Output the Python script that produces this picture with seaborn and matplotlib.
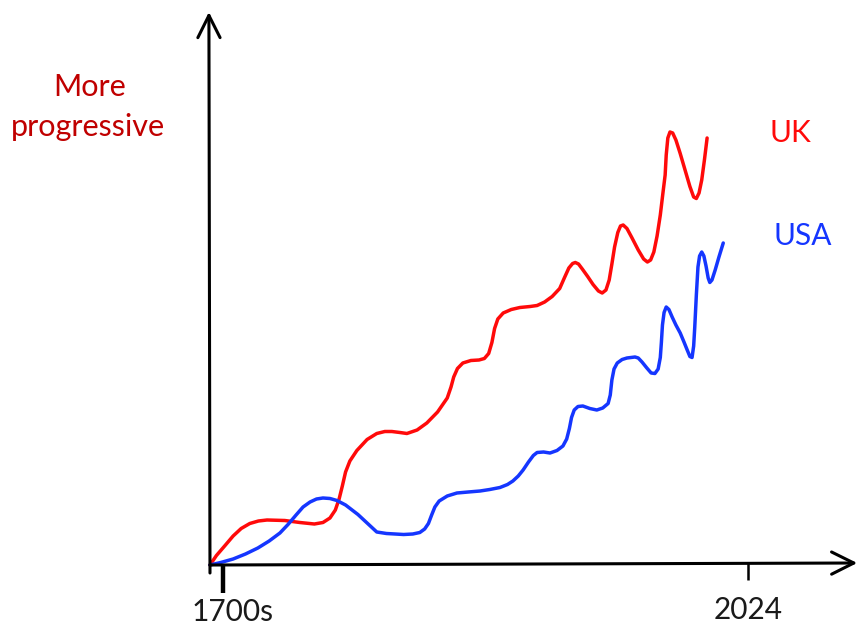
import matplotlib
matplotlib.use("Agg")
import matplotlib.pyplot as plt
import seaborn as sns
import pandas as pd

# Data (x: 0 = 1700s, 100 = 2024; y: progressiveness, arbitrary units)
uk_x = [0, 1.2, 2.8, 4.3, 5.8, 7.4, 9.0, 10.6, 13.9, 16.7, 19.4, 21.0, 22.3, 23.3, 24.0,
        24.6, 25.2, 26.0, 27.3, 29.2, 31.0, 32.5, 33.8, 35.3, 36.6, 38.5, 40.3, 42.3, 44.1,
        44.8, 45.3, 46.0, 47.0, 48.5, 50.0, 51.0, 51.8, 52.4, 52.9, 53.5, 54.5, 56.0, 57.6,
        59.5, 60.8, 62.2, 63.6, 65.0, 65.9, 66.7, 67.4, 67.9, 68.5, 69.2, 70.2, 71.2, 72.2,
        72.9, 73.6, 74.2, 74.7, 75.2, 75.8, 76.3, 76.8, 77.5, 78.4, 79.6, 80.6, 81.3, 81.9,
        82.5, 83.1, 83.7, 84.2, 84.6, 84.8, 85.1, 85.5, 86.0, 86.6, 87.4, 88.3, 89.2, 89.9,
        90.4, 90.9, 91.4, 91.9, 92.4]
uk_y = [0, 1.9, 3.9, 5.8, 7.3, 8.3, 8.8, 9.0, 8.9, 8.5, 8.2, 8.5, 9.4, 11.0, 13.2,
        15.8, 18.6, 20.8, 22.9, 25.1, 26.3, 26.7, 26.7, 26.5, 26.3, 27.0, 28.4, 30.6, 33.4,
        35.6, 37.6, 39.3, 40.4, 40.9, 41.0, 41.3, 42.3, 44.5, 47.3, 49.2, 50.4, 51.1, 51.5,
        51.7, 51.9, 52.6, 53.7, 55.3, 57.5, 59.4, 60.3, 60.5, 60.2, 59.2, 57.7, 56.1, 54.8,
        54.4, 55.0, 57.0, 60.2, 63.6, 66.5, 67.8, 68.0, 67.3, 65.5, 63.0, 61.2, 60.6, 61.0,
        62.6, 65.8, 70.0, 74.5, 78.0, 82.0, 85.4, 86.6, 86.4, 85.0, 82.3, 79.0, 75.7, 73.6,
        73.3, 74.4, 77.0, 81.0, 85.4]
usa_x = [0, 2.0, 4.3, 6.6, 8.9, 11.0, 13.0, 14.5, 16.0, 17.3, 18.6, 19.8, 21.0, 22.3,
         23.6, 25.2, 27.5, 29.3, 31.0, 32.8, 34.4, 36.0, 37.7, 39.0, 39.9, 40.6, 41.2, 41.8,
         42.6, 44.1, 45.9, 48.0, 50.2, 52.0, 53.9, 55.3, 56.3, 57.3, 58.2, 59.2, 60.1, 60.8,
         62.0, 63.2, 64.5, 65.6, 66.3, 66.8, 67.2, 67.7, 68.4, 69.3, 70.6, 71.9, 73.0, 74.0,
         74.4, 74.7, 75.1, 75.7, 76.6, 77.5, 79.0, 79.6, 80.3, 81.2, 82.0, 82.7, 83.3, 83.7,
         83.9, 84.1, 84.4, 84.8, 85.3, 85.9, 86.6, 87.4, 88.1, 88.7, 89.2, 89.6, 89.9, 90.1,
         90.4, 90.7, 91.0, 91.4, 91.8, 92.2, 92.6, 92.9, 93.3, 93.9, 94.6, 95.4]
usa_y = [0, 0.5, 1.2, 2.2, 3.4, 4.8, 6.4, 8.1, 10.0, 11.6, 12.6, 13.2, 13.4, 13.3,
         12.9, 12.0, 10.1, 8.3, 6.6, 6.3, 6.2, 6.1, 6.2, 6.5, 7.2, 8.3, 10.0, 11.6,
         12.8, 13.8, 14.4, 14.6, 14.8, 15.1, 15.5, 16.1, 16.8, 17.8, 19.0, 20.6, 21.9, 22.5,
         22.6, 22.4, 22.9, 23.8, 25.2, 27.3, 29.5, 31.0, 31.7, 31.8, 31.3, 31.0, 31.4, 32.3,
         34.0, 37.0, 39.2, 40.4, 41.1, 41.4, 41.6, 41.4, 40.6, 39.4, 38.4, 38.3, 39.2, 41.5,
         44.5, 48.0, 50.5, 51.6, 51.1, 49.6, 48.0, 46.4, 44.6, 43.0, 41.7, 41.5, 43.8, 47.5,
         54.0, 59.6, 61.8, 62.6, 61.8, 59.8, 57.4, 56.5, 57.0, 59.0, 61.6, 64.4]
tick_positions = [2.4, 100]
tick_labels = ["1700s", "2024"]
series_names = ["UK", "USA"]

df = pd.concat([
    pd.DataFrame({"x": uk_x, "y": uk_y, "country": "UK"}),
    pd.DataFrame({"x": usa_x, "y": usa_y, "country": "USA"}),
])

sns.set_style("white")
plt.rcParams["font.family"] = ["Lato", "DejaVu Sans"]

fig = plt.figure(figsize=(8.57, 6.35), dpi=100)
ax = fig.add_axes([0, 0, 1, 1])
ax.set_xlim(-39.03, 120.26)
ax.set_ylim(-14, 113)
ax.axis("off")

palette = {"UK": "#FF0A0A", "USA": "#1536FF"}
sns.lineplot(data=df, x="x", y="y", hue="country", palette=palette, sort=False,
             estimator=None, units="country", legend=False, lw=2.5, ax=ax,
             solid_joinstyle="round", solid_capstyle="round")

# axes with arrows
ax.annotate("", xy=(-0.2, 110.6), xytext=(0, -1.6),
            arrowprops=dict(arrowstyle="->,head_length=1.6,head_width=0.8", lw=2.2,
                            color="black", shrinkA=0, shrinkB=0))
ax.annotate("", xy=(120.3, 0.4), xytext=(0, 0),
            arrowprops=dict(arrowstyle="->,head_length=1.6,head_width=0.8", lw=2.2,
                            color="black", shrinkA=0, shrinkB=0))

# ticks
ax.plot([tick_positions[0]] * 2, [0, -5.6], color="black", lw=3.2, solid_capstyle="butt")
ax.plot([tick_positions[1]] * 2, [0.4, -3.0], color="black", lw=1.8, solid_capstyle="butt")
ax.text(4.1, -9.4, tick_labels[0], ha="center", va="center", fontsize=21.5, color="#1a1a1a")
ax.text(100, -9.0, tick_labels[1], ha="center", va="center", fontsize=21.5, color="#1a1a1a")

# labels
ax.text(-22.3, 95.6, "More", ha="center", va="center", fontsize=22, color="#C00000")
ax.text(-22.7, 87.6, "progressive", ha="center", va="center", fontsize=22, color="#C00000")
ax.text(107.8, 86.4, series_names[0], ha="center", va="center", fontsize=21.5, color="#FF0A0A")
ax.text(110.2, 65.8, series_names[1], ha="center", va="center", fontsize=21.5, color="#1536FF")

fig.savefig("out.png", dpi=100)
